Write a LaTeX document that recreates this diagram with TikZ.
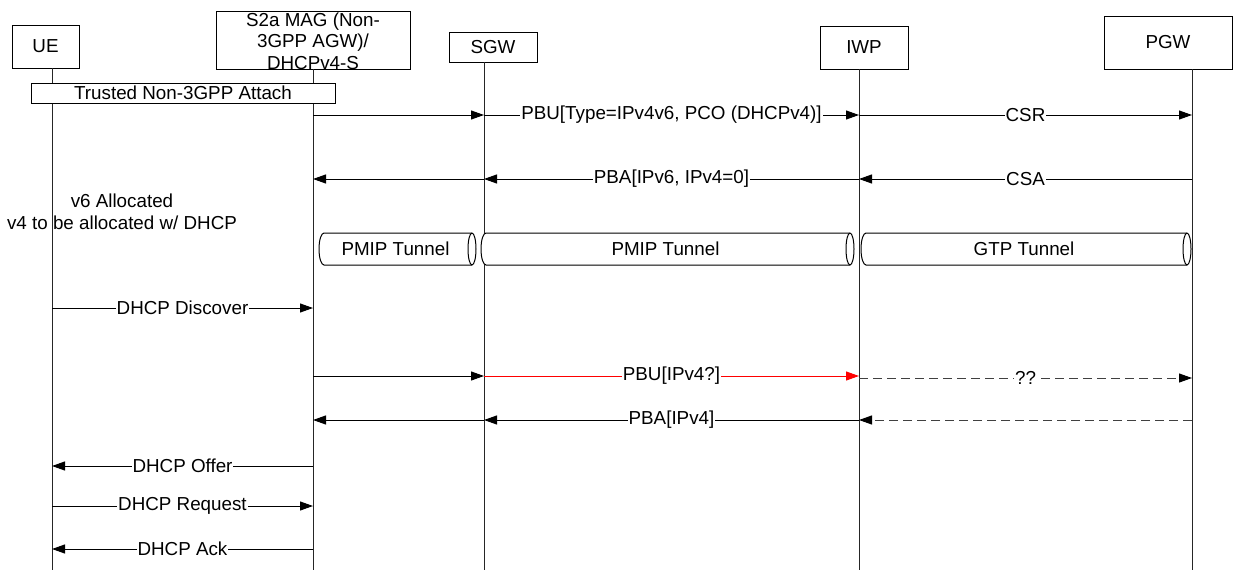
\documentclass[tikz,border=0pt]{standalone}
\usepackage{fontspec}
\setmainfont{Liberation Sans}
\usetikzlibrary{arrows.meta}

% horizontal tube: #1 left x, #2 right x, #3 label, #4 node name
\newcommand\tube[4]{%
  \draw[tubeline, fill=white] (#1+5,233) -- (#2,233)
    arc[start angle=90, end angle=-90, x radius=4pt, y radius=16pt]
    -- (#1+5,265)
    arc[start angle=270, end angle=90, x radius=5pt, y radius=16pt] -- cycle;
  \draw[tubeline] (#2,233) arc[start angle=90, end angle=270, x radius=4pt, y radius=16pt];
  \node (#4) at ({(#1+#2)/2},249) {#3};
}

\begin{document}
\begin{tikzpicture}[x=1pt, y=-1pt,
  font=\fontsize{18.8}{21.5}\selectfont,
  actor/.style={draw, line width=1pt, fill=white, inner sep=0pt, align=center},
  life/.style={line width=1pt, draw=black!85},
  msg/.style={line width=1pt, -{Triangle[length=13pt, width=9pt]}},
  redmsg/.style={msg, draw=red},
  dashmsg/.style={line width=1pt, draw=black!75, dash pattern=on 9pt off 5pt,
    -{Triangle[length=13pt, width=9pt, color=black]}},
  lbl/.style={fill=white, inner sep=1pt},
  tubeline/.style={line width=1pt}]

\useasboundingbox (0,0) rectangle (1234,570);

% actors
\node[actor, minimum width=67pt, minimum height=43pt] (ue) at (45.5,46.5) {UE};
\node[actor, minimum width=194pt, minimum height=58pt] (mag) at (313,40) {};
\node[align=center, inner sep=0pt] (magtxt) at (313,41) {S2a MAG (Non-\\3GPP AGW)/\\DHCPv4-S};
\node[actor, minimum width=88pt, minimum height=30pt] (sgw) at (493,47) {SGW};
\node[actor, minimum width=88pt, minimum height=43pt] (iwp) at (864,47.5) {IWP};
\node[actor, minimum width=128pt, minimum height=53pt] (pgw) at (1168,42.5) {PGW};

% lifeline ends
\coordinate (ueT) at (52,68);   \coordinate (ueB) at (52,570);
\coordinate (magT) at (313,69); \coordinate (magB) at (313,570);
\coordinate (sgwT) at (484,62); \coordinate (sgwB) at (484,570);
\coordinate (iwpT) at (859,69); \coordinate (iwpB) at (859,570);
\coordinate (pgwT) at (1192,69);\coordinate (pgwB) at (1192,570);

\draw[life] (ueT) -- (ueB);
\draw[life] (magT) -- (magB);
\draw[life] (sgwT) -- (sgwB);
\draw[life] (iwpT) -- (iwpB);
\draw[life] (pgwT) -- (pgwB);

% attach procedure
\node[actor, minimum width=304pt, minimum height=20pt] (attach) at (183,93) {Trusted Non-3GPP Attach};

% message rows
\coordinate (r1) at (0,115);
\coordinate (r2) at (0,179);
\coordinate (r3) at (0,308);
\coordinate (r4) at (0,376);
\coordinate (r5) at (0,420);
\coordinate (r6) at (0,466);
\coordinate (r7) at (0,506);
\coordinate (r8) at (0,549);

\draw[msg] (magT |- r1) -- (sgwT |- r1);
\draw[msg] (sgwT |- r1) -- node[lbl] {PBU[Type=IPv4v6, PCO (DHCPv4)]} (iwpT |- r1);
\draw[msg] (iwpT |- r1) -- node[lbl] {CSR} (pgwT |- r1);

\draw[msg] (sgwT |- r2) -- (magT |- r2);
\draw[msg] (iwpT |- r2) -- node[lbl] {PBA[IPv6, IPv4=0]} (sgwT |- r2);
\draw[msg] (pgwT |- r2) -- node[lbl] {CSA} (iwpT |- r2);

\node[align=center, inner sep=0pt] (note) at (122,212) {v6 Allocated\\v4 to be allocated w/ DHCP};

% tunnels
\tube{319}{472}{PMIP Tunnel}{t1}
\tube{481}{850}{PMIP Tunnel}{t2}
\tube{861}{1187}{GTP Tunnel}{t3}

\draw[msg] (ueT |- r3) -- node[lbl] {DHCP Discover} (magT |- r3);

\draw[msg] (magT |- r4) -- (sgwT |- r4);
\draw[redmsg] (sgwT |- r4) -- node[lbl, text=black] {PBU[IPv4?]} (iwpT |- r4);
\draw[dashmsg] ([yshift=-2pt]iwpT |- r4) -- node[lbl, text=black] {??} ([yshift=-2pt]pgwT |- r4);

\draw[msg] (sgwT |- r5) -- (magT |- r5);
\draw[msg] (iwpT |- r5) -- node[lbl] {PBA[IPv4]} (sgwT |- r5);
\draw[dashmsg] (pgwT |- r5) -- (iwpT |- r5);

\draw[msg] (magT |- r6) -- node[lbl] {DHCP Offer} (ueT |- r6);
\draw[msg] (ueT |- r7) -- node[lbl] {DHCP Request} (magT |- r7);
\draw[msg] (magT |- r8) -- node[lbl] {DHCP Ack} (ueT |- r8);

\end{tikzpicture}
\end{document}
